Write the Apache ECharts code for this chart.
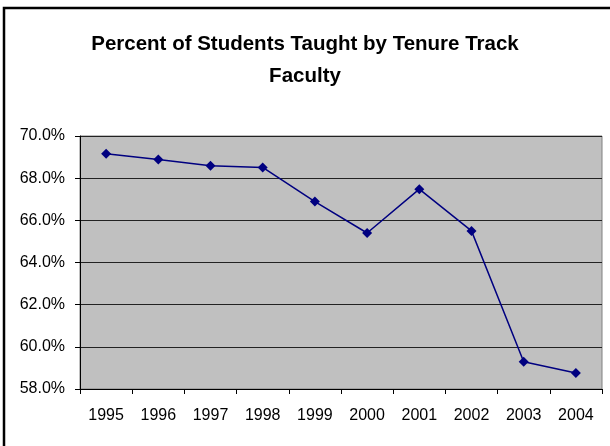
<!DOCTYPE html>
<html>
<head>
<meta charset="utf-8">
<script src="https://cdn.jsdelivr.net/npm/echarts@6/dist/echarts.min.js"></script>
<style>
  html, body { margin: 0; padding: 0; background: #fff; }
  #chart { width: 610px; height: 446px; }
</style>
</head>
<body>
<div id="chart"></div>
<script>
// data
const years = ['1995', '1996', '1997', '1998', '1999', '2000', '2001', '2002', '2003', '2004'];
const tenureShare = [69.16, 68.88, 68.59, 68.51, 66.89, 65.40, 67.48, 65.50, 59.29, 58.76];
const yTicks = { min: 58, max: 70, step: 2 };

const font = '"Liberation Sans", Arial, sans-serif';

const chart = echarts.init(document.getElementById('chart'));

const option = {
  animation: false,
  backgroundColor: '#fff',
  textStyle: { fontFamily: font },
  title: {
    text: 'Percent of Students Taught by Tenure Track\nFaculty',
    left: 'center',
    top: 23,
    textStyle: {
      fontSize: 20.5,
      fontWeight: 'bold',
      color: '#000',
      lineHeight: 32,
      fontFamily: font
    }
  },
  graphic: [
    {
      // outer chart frame (only top and left show in the crop)
      type: 'rect',
      shape: { x: 4, y: 8, width: 700, height: 500 },
      style: { fill: null, stroke: '#000', lineWidth: 2.5 },
      silent: true
    }
  ],
  grid: {
    left: 80,
    right: 8,
    top: 136,
    bottom: 57,
    show: true,
    backgroundColor: '#c0c0c0',
    borderColor: '#808080',
    borderWidth: 1
  },
  xAxis: {
    type: 'category',
    data: years,
    boundaryGap: true,
    axisLine: { lineStyle: { color: '#000', width: 1 } },
    axisTick: { show: true, inside: false, length: 5, lineStyle: { color: '#000' } },
    axisLabel: { color: '#000', fontSize: 16, margin: 19, interval: 0, fontFamily: font }
  },
  yAxis: {
    type: 'value',
    min: yTicks.min,
    max: yTicks.max,
    interval: yTicks.step,
    axisLine: { show: true, lineStyle: { color: '#000', width: 1 } },
    axisTick: { show: true, length: 5, lineStyle: { color: '#000' } },
    axisLabel: {
      color: '#000',
      fontSize: 16,
      margin: 15,
      fontFamily: font,
      formatter: v => v.toFixed(1) + '%'
    },
    splitLine: { show: true, lineStyle: { color: '#222', width: 1 } }
  },
  series: [
    {
      name: 'Tenure Track',
      type: 'line',
      data: tenureShare,
      color: '#000080',
      symbol: 'diamond',
      symbolSize: 10,
      lineStyle: { color: '#000080', width: 1.5 },
      itemStyle: { color: '#000080' }
    }
  ]
};

chart.setOption(option);
</script>
</body>
</html>
